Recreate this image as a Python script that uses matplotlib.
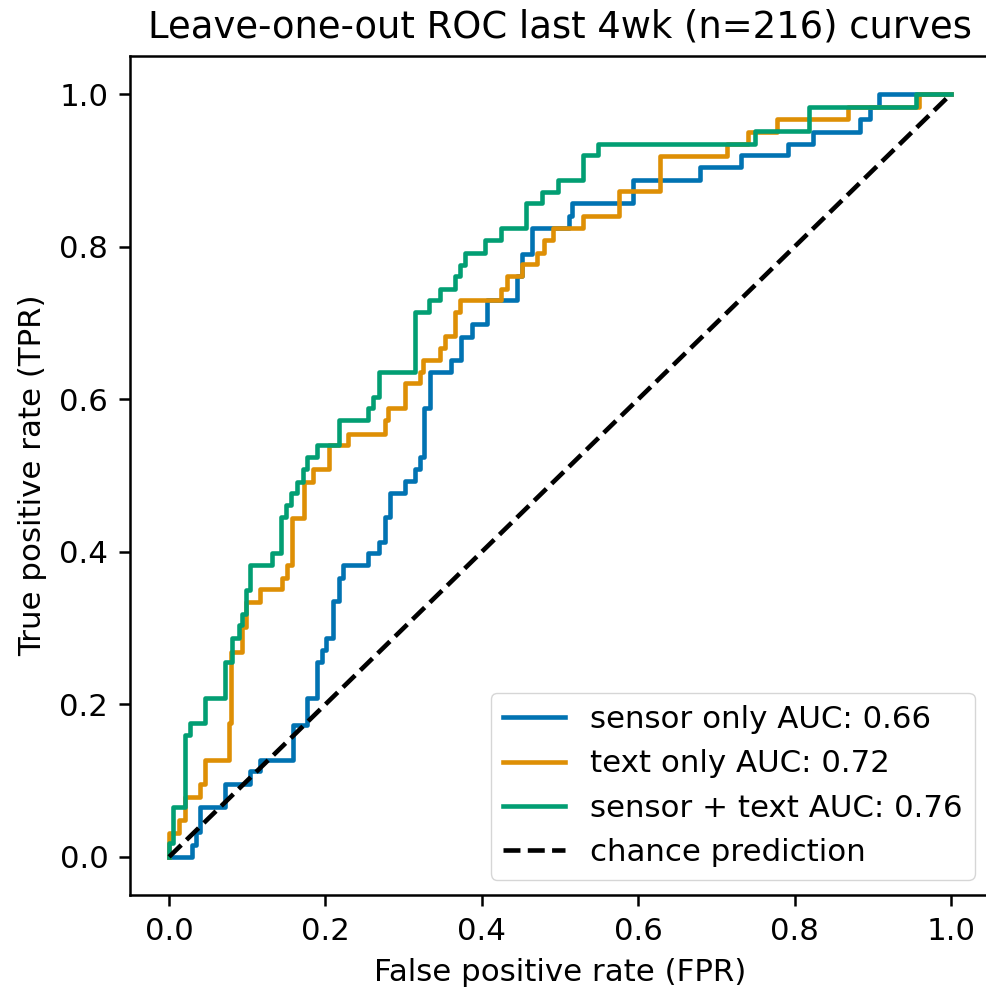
import matplotlib
matplotlib.use("Agg")
import matplotlib.pyplot as plt

# ROC corner points (fpr, tpr)
sensor_fpr = [0, 0.029, 0.029, 0.035, 0.035, 0.040, 0.040, 0.072, 0.072, 0.104, 0.104, 0.116, 0.116,
              0.159, 0.159, 0.176, 0.176, 0.189, 0.189, 0.196, 0.196, 0.201, 0.201, 0.210, 0.210,
              0.217, 0.217, 0.223, 0.223, 0.255, 0.255, 0.269, 0.269, 0.276, 0.276, 0.282, 0.282,
              0.302, 0.302, 0.315, 0.315, 0.321, 0.321, 0.326, 0.326, 0.334, 0.334, 0.361, 0.361,
              0.374, 0.374, 0.387, 0.387, 0.406, 0.406, 0.445, 0.445, 0.451, 0.451, 0.464, 0.464,
              0.511, 0.511, 0.515, 0.515, 0.594, 0.594, 0.679, 0.679, 0.732, 0.732, 0.792, 0.792,
              0.824, 0.824, 0.884, 0.884, 0.896, 0.896, 0.908, 0.908, 1.0]
sensor_tpr = [0, 0, 0.016, 0.016, 0.033, 0.033, 0.066, 0.066, 0.096, 0.096, 0.112, 0.112, 0.127,
              0.127, 0.173, 0.173, 0.208, 0.208, 0.256, 0.256, 0.271, 0.271, 0.287, 0.287, 0.335,
              0.335, 0.365, 0.365, 0.383, 0.383, 0.398, 0.398, 0.413, 0.413, 0.446, 0.446, 0.477,
              0.477, 0.493, 0.493, 0.508, 0.508, 0.524, 0.524, 0.588, 0.588, 0.636, 0.636, 0.651,
              0.651, 0.682, 0.682, 0.699, 0.699, 0.730, 0.730, 0.761, 0.761, 0.791, 0.791, 0.825,
              0.825, 0.840, 0.840, 0.857, 0.857, 0.888, 0.888, 0.904, 0.904, 0.920, 0.920, 0.935,
              0.935, 0.950, 0.950, 0.968, 0.968, 0.983, 0.983, 1.0, 1.0]

text_fpr = [0, 0, 0.013, 0.013, 0.020, 0.020, 0.039, 0.039, 0.046, 0.046, 0.076, 0.076, 0.079,
            0.079, 0.093, 0.093, 0.098, 0.098, 0.116, 0.116, 0.145, 0.145, 0.151, 0.151, 0.157,
            0.157, 0.172, 0.172, 0.184, 0.184, 0.204, 0.204, 0.229, 0.229, 0.276, 0.276, 0.280,
            0.280, 0.302, 0.302, 0.321, 0.321, 0.325, 0.325, 0.347, 0.347, 0.353, 0.353, 0.366,
            0.366, 0.372, 0.372, 0.425, 0.425, 0.432, 0.432, 0.451, 0.451, 0.471, 0.471, 0.479,
            0.479, 0.491, 0.491, 0.530, 0.530, 0.575, 0.575, 0.628, 0.628, 0.713, 0.713, 0.741,
            0.741, 0.777, 0.777, 0.869, 0.869, 0.959, 0.959, 1.0]
text_tpr = [0, 0.031, 0.031, 0.048, 0.048, 0.079, 0.079, 0.096, 0.096, 0.127, 0.127, 0.175, 0.175,
            0.269, 0.269, 0.302, 0.302, 0.334, 0.334, 0.351, 0.351, 0.365, 0.365, 0.383, 0.383,
            0.444, 0.444, 0.492, 0.492, 0.509, 0.509, 0.540, 0.540, 0.555, 0.555, 0.573, 0.573,
            0.588, 0.588, 0.621, 0.621, 0.636, 0.636, 0.651, 0.651, 0.667, 0.667, 0.683, 0.683,
            0.715, 0.715, 0.730, 0.730, 0.745, 0.745, 0.761, 0.761, 0.777, 0.777, 0.792, 0.792,
            0.809, 0.809, 0.824, 0.824, 0.840, 0.840, 0.873, 0.873, 0.919, 0.919, 0.935, 0.935,
            0.950, 0.950, 0.968, 0.968, 0.983, 0.983, 1.0, 1.0]

both_fpr = [0, 0, 0.005, 0.005, 0.020, 0.020, 0.027, 0.027, 0.046, 0.046, 0.072, 0.072, 0.080,
            0.080, 0.089, 0.089, 0.093, 0.093, 0.099, 0.099, 0.104, 0.104, 0.131, 0.131, 0.143,
            0.143, 0.150, 0.150, 0.156, 0.156, 0.163, 0.163, 0.171, 0.171, 0.176, 0.176, 0.189,
            0.189, 0.217, 0.217, 0.255, 0.255, 0.261, 0.261, 0.268, 0.268, 0.315, 0.315, 0.332,
            0.332, 0.347, 0.347, 0.366, 0.366, 0.372, 0.372, 0.379, 0.379, 0.404, 0.404, 0.425,
            0.425, 0.457, 0.457, 0.477, 0.477, 0.498, 0.498, 0.530, 0.530, 0.549, 0.549, 0.749,
            0.749, 0.818, 0.818, 0.955, 0.955, 1.0]
both_tpr = [0, 0.018, 0.018, 0.066, 0.066, 0.160, 0.160, 0.175, 0.175, 0.208, 0.208, 0.256, 0.256,
            0.287, 0.287, 0.304, 0.304, 0.319, 0.319, 0.350, 0.350, 0.383, 0.383, 0.398, 0.398,
            0.446, 0.446, 0.461, 0.461, 0.477, 0.477, 0.492, 0.492, 0.509, 0.509, 0.524, 0.524,
            0.540, 0.540, 0.573, 0.573, 0.588, 0.588, 0.603, 0.603, 0.636, 0.636, 0.715, 0.715,
            0.730, 0.730, 0.745, 0.745, 0.761, 0.761, 0.776, 0.776, 0.792, 0.792, 0.809, 0.809,
            0.824, 0.824, 0.857, 0.857, 0.872, 0.872, 0.888, 0.888, 0.920, 0.920, 0.935, 0.935,
            0.952, 0.952, 0.983, 0.983, 1.0, 1.0]

labels = ["sensor only AUC: 0.66", "text only AUC: 0.72", "sensor + text AUC: 0.76"]
colors = ["#0173B2", "#DE8F05", "#029E73"]

plt.rcParams.update({
    "font.size": 22.2,
    "axes.linewidth": 1.8,
    "xtick.major.size": 7.8, "ytick.major.size": 7.8,
    "xtick.major.width": 1.8, "ytick.major.width": 1.8,
    "xtick.major.pad": 7.8, "ytick.major.pad": 7.8,
})

fig = plt.figure(figsize=(9.87, 9.94), dpi=100)
ax = fig.add_axes([130 / 987, 99 / 994, 860 / 987, 839 / 994])

curves = [(sensor_fpr, sensor_tpr), (text_fpr, text_tpr), (both_fpr, both_tpr)]
for (fpr, tpr), lab, col in zip(curves, labels, colors):
    ax.plot(fpr, tpr, color=col, linewidth=3.3, label=lab)
ax.plot([0, 1], [0, 1], "k--", linewidth=3.3, label="chance prediction")

ax.set_xlim(-0.05, 1.05)
ax.set_ylim(-0.05, 1.05)
ax.set_xlabel("False positive rate (FPR)", fontsize=22.2, labelpad=8.9)
ax.set_ylabel("True positive rate (TPR)", fontsize=22.2, labelpad=8.9)
ax.set_title("Leave-one-out ROC last 4wk (n=216) curves", fontsize=26.6, pad=13)
ax.legend(loc="lower right", fontsize=22.2)

fig.savefig("out.png", dpi=100)
